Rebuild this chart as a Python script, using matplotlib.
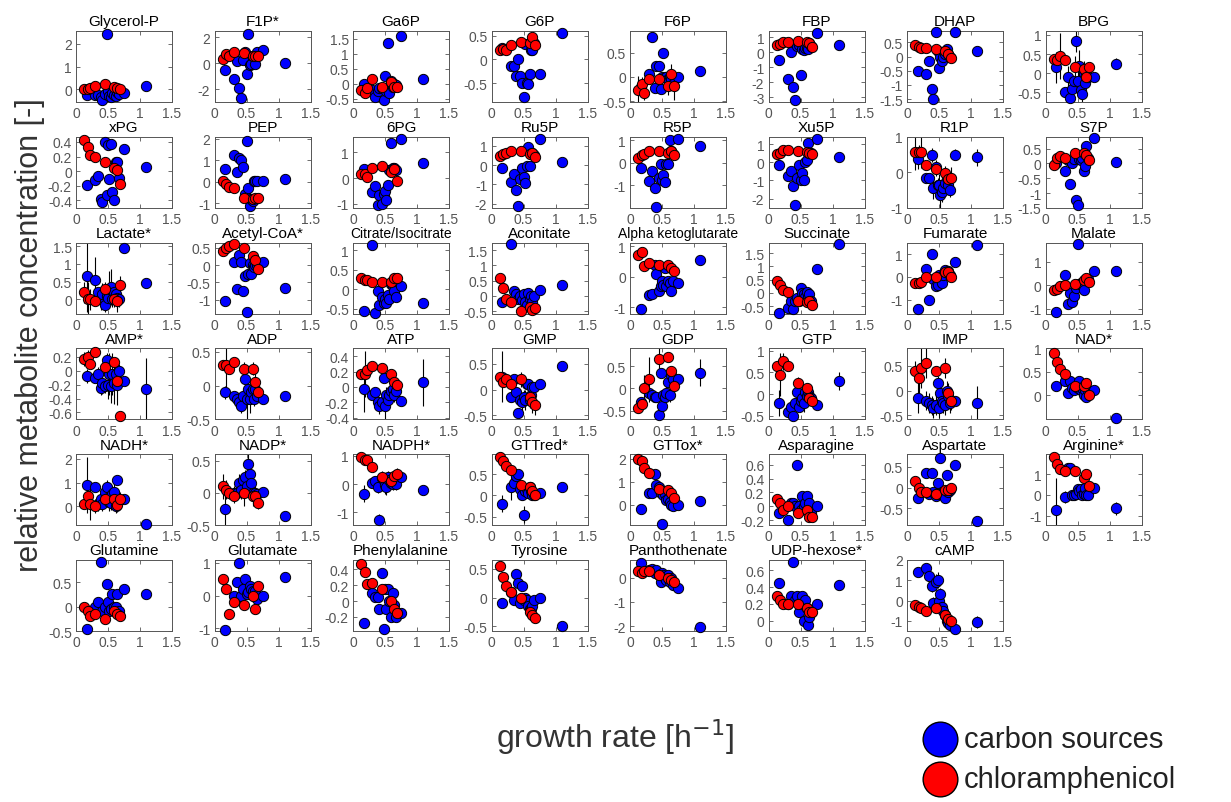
import numpy as np
import matplotlib
matplotlib.use("Agg")
import matplotlib.pyplot as plt
from matplotlib.lines import Line2D

plt.rcParams['font.family'] = ['Liberation Sans', 'DejaVu Sans']

nan = float('nan')

# growth rates [1/h]
growth_carbon = [0.17, 0.30, 0.35, 0.39, 0.41, 0.45, 0.48, 0.50, 0.52, 0.55, 0.57, 0.60, 0.62, 0.64, 0.67, 0.75, 1.10]
growth_cam = [0.13, 0.18, 0.22, 0.30, 0.46, 0.60, 0.64, 0.68]

# ---- row 1 ----
carbon_glycerol_p = [-0.25, -0.25, -0.25, -0.35, -0.45, -0.2, 2.4, -0.05, -0.3, -0.35, -0.15, -0.25, -0.3, -0.1, -0.2, -0.15, 0.15]
cam_glycerol_p = [0.0, 0.02, 0.05, 0.15, 0.22, 0.12, 0.08, 0.0]
carbon_f1p = [-0.55, -1.25, 0.15, -1.9, -2.7, 0.25, 0.9, -0.85, 2.3, -0.1, -0.05, 0.6, 0.55, -0.05, 0.85, 1.05, 0.05]
cam_f1p = [0.35, 0.7, 0.55, 0.85, 0.8, 0.6, 0.6, 0.55]
carbon_ga6p = [0.0, -0.2, -0.45, -0.25, -0.15, -0.15, -0.55, 0.25, -0.25, 1.35, -0.3, 0.1, -0.1, 0.0, -0.05, 1.6, 0.15]
cam_ga6p = [-0.2, -0.3, -0.15, 0.15, -0.1, 0.05, -0.1, -0.1]
carbon_g6p = [0.25, -0.13, -0.13, -0.36, 0.0, -0.35, -0.5, -0.8, 0.32, -0.5, -0.53, -0.3, 0.2, 0.2, 0.35, -0.3, 0.55]
cam_g6p = [0.2, 0.22, 0.2, 0.3, 0.37, 0.35, 0.47, 0.3]
carbon_f6p = [-0.2, 0.05, 0.83, -0.22, 0.22, 0.23, -0.25, 0.0, 0.5, 0.0, 0.0, -0.05, 0.0, -0.05, -0.15, 0.0, 0.12]
cam_f6p = [-0.28, -0.15, -0.33, -0.05, -0.05, -0.18, 0.07, -0.18]
carbon_fbp = [-0.5, -1.8, 0.0, -2.3, -3.2, 0.4, 0.45, -1.5, 0.2, 0.15, 0.25, 0.3, 0.2, 0.6, 0.4, 1.3, 0.45]
cam_fbp = [0.5, 0.55, 0.65, 0.7, 0.75, 0.7, 0.6, 0.35]
carbon_dhap = [-0.5, -0.6, -0.15, -1.15, -1.5, 0.85, 0.2, -0.4, 0.0, -0.15, 0.0, 0.1, 0.25, 0.1, 0.0, 0.85, 0.2]
cam_dhap = [0.4, 0.35, 0.3, 0.3, 0.25, 0.2, 0.1, -0.05]
carbon_bpg = [0.15, -0.5, -0.1, -0.65, -0.4, -0.2, 0.85, -0.2, 0.2, -0.45, -0.55, 0.0, -0.25, 0.0, -0.1, -0.1, 0.25]
cam_bpg = [0.37, 0.35, 0.45, 0.35, 0.15, 0.12, -0.1, 0.15]

# ---- row 2 ----
carbon_xpg = [-0.19, -0.12, -0.06, -0.38, -0.42, 0.4, -0.33, 0.36, -0.11, 0.37, -0.28, -0.4, 0.13, 0.12, -0.09, 0.3, 0.06]
cam_xpg = [0.42, 0.33, 0.22, 0.2, 0.12, 0.04, 0.02, -0.17]
carbon_pep = [0.6, 1.25, 0.45, 1.1, 1.0, 0.7, -0.55, 1.9, -0.3, -1.1, -0.8, -0.9, 0.05, 0.05, 0.05, 0.05, 0.15]
cam_pep = [0.05, -0.1, -0.25, -0.3, -0.75, -0.8, -0.75, -0.75]
carbon_6pg = [0.35, -0.55, -0.3, -1.05, -0.65, -1.0, -0.6, -0.5, -0.85, -0.25, 0.3, 1.35, 0.4, 0.4, 0.3, 1.5, 0.6]
cam_6pg = [0.15, 0.15, 0.05, 0.4, 0.45, 0.25, 0.35, -0.1]
carbon_ru5p = [-0.15, -0.85, -0.45, -1.3, -2.1, -0.7, -0.15, -0.6, -0.9, -0.05, 0.95, -0.05, 0.55, 0.6, 0.5, 1.35, 0.15]
cam_ru5p = [0.45, 0.55, 0.6, 0.7, 0.7, 0.55, 0.6, 0.4]
carbon_r5p = [-0.25, -0.8, -0.35, -1.1, -1.95, -0.7, -0.05, -0.75, -0.55, -0.85, -0.05, -0.05, 1.0, 0.5, 0.4, 1.05, 0.75]
cam_r5p = [0.2, 0.35, 0.4, 0.5, 0.5, 0.45, 0.5, 0.35]
carbon_xu5p = [-0.15, -0.75, -0.5, -1.3, -2.35, -0.85, -0.15, -0.95, -0.6, -1.0, 0.0, 0.15, 1.05, 0.5, 0.5, 1.3, 0.3]
cam_xu5p = [0.45, 0.5, 0.65, 0.65, 0.6, 0.55, 0.5, 0.45]
carbon_r1p = [0.38, -0.15, -0.15, 0.48, -0.45, 0.15, -0.35, -0.35, -0.65, -0.55, -0.45, -0.3, -0.15, -0.35, -0.5, 0.5, 0.42]
cam_r1p = [0.57, 0.57, 0.57, 0.2, 0.1, -0.02, -0.2, -0.15]
carbon_s7p = [0.0, -0.25, 0.1, -0.7, 0.0, 0.15, -1.25, -1.4, 0.15, 0.1, 0.2, -0.25, -0.1, 0.6, 0.2, 0.85, 0.05]
cam_s7p = [-0.05, 0.2, 0.25, 0.2, 0.35, 0.35, 0.3, 0.1]

# ---- row 3 ----
carbon_lactate = [0.65, 0.55, 0.2, 0.0, 0.15, -0.15, 0.1, 0.05, 0.3, 0.35, 0.0, 0.2, 0.15, 0.05, 0.0, 1.45, 0.45]
cam_lactate = [0.2, 0.0, 0.0, -0.05, 0.3, 0.0, -0.05, 0.4]
carbon_acetylcoa = [-1.05, 0.1, -0.7, 0.3, 0.1, -0.75, -0.3, -1.35, -0.25, 0.05, -0.25, 0.0, -0.05, 0.0, 0.0, 0.1, -0.65]
cam_acetylcoa = [0.4, 0.5, 0.55, 0.6, 0.5, 0.25, 0.15, -0.1]
carbon_citrate = [-0.55, 1.15, -0.6, -0.05, -0.4, -0.2, -0.35, -0.25, -0.35, -0.15, -0.25, 0.15, 0.1, -0.05, -0.2, 0.1, -0.35]
cam_citrate = [0.3, 0.25, 0.25, 0.2, 0.2, 0.2, 0.3, 0.3]
carbon_aconitate = [-0.2, 1.7, 0.15, 0.05, -0.1, 0.0, -0.15, 0.05, -0.2, -0.3, 0.1, -0.1, 0.0, -0.2, 0.0, 0.2, 0.35]
cam_aconitate = [0.6, 0.25, -0.1, -0.2, -0.5, -0.35, -0.45, -0.4]
carbon_akg = [-1.05, -0.6, -0.55, 0.4, 0.1, -0.45, -0.3, -0.15, -0.25, 0.3, -0.3, -0.15, -0.2, -0.45, -0.15, -0.2, 0.55]
cam_akg = [0.7, 0.8, 0.35, 0.45, 0.4, 0.4, 0.3, 0.2]
carbon_succinate = [-0.75, -0.55, -0.3, -0.6, -0.3, -0.2, -0.3, 0.2, 0.0, -0.05, -0.15, 0.05, -0.15, -0.05, -0.3, 0.9, 1.85]
cam_succinate = [0.45, 0.3, 0.1, 0.05, -0.3, -0.35, -0.3, -0.45]
carbon_fumarate = [-1.4, 0.35, -1.0, 1.0, -0.1, -0.4, -0.35, 0.1, 0.0, -0.25, 0.1, 0.3, 0.2, 0.25, 0.1, 0.65, 1.4]
cam_fumarate = [-0.25, -0.25, -0.2, 0.0, 0.0, 0.2, 0.2, 0.0]
carbon_malate = [-1.15, 0.45, -0.8, -0.35, -0.7, -0.45, -0.1, 1.75, 0.05, 0.1, 0.1, -0.2, 0.2, 0.2, 0.25, 0.6, 0.6]
cam_malate = [-0.2, -0.15, -0.05, 0.0, 0.05, 0.2, 0.3, 0.15]

# ---- row 4 ----
carbon_amp = [-0.08, -0.1, -0.05, -0.25, -0.18, -0.22, 0.15, -0.2, -0.05, -0.22, -0.05, -0.18, -0.05, -0.2, 0.0, -0.15, -0.27]
cam_amp = [0.17, 0.2, 0.1, 0.27, 0.05, 0.13, -0.15, -0.65]
carbon_adp = [-0.1, -0.15, -0.2, -0.25, -0.3, -0.15, 0.1, -0.2, -0.05, -0.2, -0.1, -0.05, -0.2, -0.05, -0.15, -0.2, -0.15]
cam_adp = [0.3, 0.3, 0.25, 0.35, 0.25, 0.25, 0.05, -0.1]
carbon_atp = [-0.03, -0.1, -0.07, -0.2, -0.25, -0.2, 0.12, -0.25, -0.1, -0.17, -0.1, -0.05, -0.03, -0.1, -0.05, -0.18, 0.06]
cam_atp = [0.17, 0.17, 0.22, 0.27, 0.25, 0.17, 0.07, 0.02]
carbon_gmp = [0.25, -0.15, 0.2, -0.05, -0.45, -0.2, -0.25, -0.15, -0.2, 0.1, 0.1, -0.2, -0.1, 0.05, 0.05, 0.1, 0.45]
cam_gmp = [0.25, 0.15, 0.2, 0.1, 0.2, -0.15, -0.25, -0.3]
carbon_gdp = [-0.3, -0.1, -0.15, -0.2, -0.2, -0.6, 0.35, -0.4, -0.15, -0.2, -0.1, 0.15, -0.15, 0.3, 0.2, 0.2, 0.35]
cam_gdp = [-0.45, -0.35, 0.0, 0.2, 0.65, 0.7, 0.4, 0.05]
carbon_gtp = [-0.2, -0.4, -0.3, -0.5, -0.2, 0.05, -0.3, -0.15, -0.1, -0.2, 0.05, -0.05, 0.05, -0.05, -0.1, -0.25, 0.3]
cam_gtp = [0.65, 0.45, 0.75, 0.65, 0.25, 0.15, -0.1, -0.15]
carbon_imp = [-0.15, -0.2, -0.25, -0.3, -0.35, -0.3, 0.15, -0.35, -0.05, -0.2, -0.25, -0.3, 0.0, -0.1, -0.25, -0.2, -0.25]
cam_imp = [0.4, 0.25, 0.45, 0.55, 0.4, 0.45, -0.05, -0.2]
carbon_nad = [0.2, 0.3, 0.05, 0.3, 0.15, 0.1, 0.2, 0.15, 0.3, 0.1, 0.15, 0.0, 0.1, -0.05, 0.1, 0.1, -0.5]
cam_nad = [0.9, 0.7, 0.55, 0.45, 0.2, 0.2, 0.25, 0.0]

# ---- row 5 ----
carbon_nadh = [0.9, 0.8, 0.1, 0.3, 0.1, 0.6, 0.8, 0.35, 0.2, 0.15, 0.5, 0.6, 0.0, 1.1, 0.25, 0.3, -0.75]
cam_nadh = [0.1, 0.45, 0.1, 0.0, 0.3, 0.3, 0.05, 0.3]
carbon_nadp = [-0.25, 0.0, 0.0, 0.15, 0.05, 0.2, 0.25, 0.1, 0.45, 0.3, 0.15, 0.0, -0.05, 0.0, -0.02, 0.02, -0.35]
cam_nadp = [0.1, 0.05, 0.0, -0.05, 0.0, -0.05, -0.05, -0.15]
carbon_nadph = [-0.35, 0.05, 0.1, -0.1, -1.25, 0.2, 0.15, -0.05, -0.1, 0.25, 0.15, 0.05, 0.0, 0.1, 0.0, 0.25, -0.2]
cam_nadph = [0.95, 0.85, 0.85, 0.6, 0.25, 0.1, 0.3, 0.35]
carbon_gttred = [-0.2, 0.2, 0.3, 0.45, 0.5, 0.15, 0.0, -0.45, 0.1, 0.15, 0.05, 0.2, 0.1, 0.0, 0.0, 0.05, 0.2]
cam_gttred = [0.9, 0.8, 0.7, 0.6, 0.25, 0.2, 0.1, 0.0]
carbon_gttox = [-0.2, 0.5, 0.5, 1.35, 0.85, 0.75, 0.5, -0.85, 0.4, 0.45, 0.2, 0.25, 0.1, 0.0, -0.05, 0.0, 0.15]
cam_gttox = [2.0, 1.9, 1.6, 1.4, 0.7, 0.65, 0.5, 0.3]
carbon_asparagine = [-0.1, -0.2, 0.05, 0.05, 0.0, 0.6, 0.0, -0.05, 0.15, 0.0, 0.05, 0.15, -0.05, 0.05, -0.1, 0.0, nan]
cam_asparagine = [0.1, 0.05, -0.05, 0.0, -0.1, -0.05, -0.15, -0.15]
carbon_aspartate = [-0.25, 0.35, -0.15, 0.35, -0.1, -0.2, 0.1, -0.15, 0.7, -0.1, -0.1, -0.25, 0.3, -0.1, -0.05, 0.55, -0.8]
cam_aspartate = [0.15, 0.0, -0.1, -0.1, -0.15, -0.05, -0.05, 0.0]
carbon_arginine = [-0.7, -0.1, 1.3, 1.3, 0.0, 0.0, 0.05, 0.3, 0.2, 0.3, 0.0, 0.05, 0.35, 0.0, 0.0, 0.35, -0.65]
cam_arginine = [1.8, 1.5, 1.25, 1.15, 1.15, 0.8, 1.0, 0.45]

# ---- row 6 ----
carbon_glutamine = [-0.45, 0.0, 0.1, 0.9, -0.1, 0.0, 0.45, 0.1, -0.1, -0.05, 0.25, 0.0, 0.0, 0.25, -0.1, 0.35, 0.25]
cam_glutamine = [0.0, -0.1, -0.2, -0.15, -0.25, -0.1, -0.15, -0.2]
carbon_glutamate = [-1.05, 0.0, 0.4, 1.0, 0.0, 0.2, 0.5, 0.05, 0.1, 0.3, 0.2, 0.15, 0.0, 0.15, -0.1, 0.0, 0.55]
cam_glutamate = [0.5, 0.2, -0.55, -0.2, -0.3, 0.0, -0.4, 0.3]
carbon_phenylalanine = [-0.28, 0.1, 0.05, 0.05, -0.1, 0.35, -0.35, 0.15, -0.1, 0.15, 0.0, -0.2, 0.1, -0.05, -0.2, -0.15, nan]
cam_phenylalanine = [0.47, 0.37, 0.22, 0.23, 0.15, 0.0, -0.1, -0.15]
carbon_tyrosine = [-0.1, 0.1, -0.05, 0.4, 0.25, -0.1, 0.2, -0.05, 0.0, -0.05, -0.15, -0.2, -0.2, -0.15, -0.05, 0.0, -0.5]
cam_tyrosine = [0.55, 0.35, 0.2, 0.1, 0.0, -0.25, -0.3, -0.35]
carbon_panthothenate = [0.6, 0.3, 0.35, 0.2, 0.3, 0.1, -0.2, 0.2, 0.1, 0.0, -0.1, 0.1, -0.2, 0.0, -0.3, -0.45, -2.05]
cam_panthothenate = [0.25, 0.2, 0.25, 0.25, 0.1, 0.0, -0.1, -0.2]
carbon_udp_hexose = [0.45, 0.2, 0.3, 0.7, 0.25, 0.3, 0.1, 0.2, 0.3, 0.0, 0.25, 0.15, -0.05, 0.05, 0.1, 0.2, 0.42]
cam_udp_hexose = [0.3, 0.25, 0.2, 0.2, 0.2, 0.15, 0.1, 0.1]
carbon_camp = [1.4, 1.6, 1.2, 0.7, -0.1, 0.9, 1.0, 0.0, 0.3, -0.3, -0.5, -0.7, -1.0, -1.1, -1.2, -1.4, -1.05]
cam_camp = [-0.2, -0.3, -0.35, -0.5, -0.35, -0.7, -0.9, -1.0]

# ---- error bars (standard deviations) ----
err_carbon_f6p = [0.1, 0.05, 0.1, 0.1, 0.1, 0.1, 0.1, 0.1, 0.1, 0.1, 0.1, 0.1, 0.1, 0.1, 0.1, 0.05, 0.05]
err_cam_f6p = [0.3, 0.15, 0.15, 0.1, 0.1, 0.2, 0.2, 0.3]
err_carbon_bpg = [0.4, 0.1, 0.3, 0.1, 0.1, 0.1, 0.3, 0.3, 0.4, 0.2, 0.2, 0.1, 0.2, 0.1, 0.1, 0.05, 0.15]
err_cam_bpg = [0.1, 0.2, 0.6, 0.1, 0.3, 0.2, 0.2, 0.1]
err_carbon_r1p = [0.3, 0.1, 0.1, 0.2, 0.3, 0.2, 0.2, 0.3, 0.4, 0.3, 0.2, 0.3, 0.2, 0.3, 0.2, 0.15, 0.25]
err_cam_r1p = [0.5, 0.2, 0.45, 0.1, 0.2, 0.2, 0.3, 0.3]
err_carbon_lactate = [1.0, 0.65, 0.1, 0.3, 0.3, 0.2, 0.3, 0.2, 0.5, 0.5, 0.2, 0.2, 0.2, 0.3, 0.2, 0.15, 0.1]
err_cam_lactate = [0.3, 0.5, 0.3, 0.1, 0.2, 0.2, 0.3, 0.25]
err_carbon_amp = [0.1, 0.05, 0.1, 0.1, 0.15, 0.1, 0.1, 0.2, 0.3, 0.25, 0.3, 0.3, 0.1, 0.3, 0.1, 0.05, 0.45]
err_cam_amp = [0.1, 0.1, 0.05, 0.05, 0.05, 0.05, 0.1, 0.05]
err_carbon_adp = [0.1, 0.05, 0.1, 0.1, 0.1, 0.1, 0.05, 0.3, 0.15, 0.2, 0.1, 0.1, 0.1, 0.1, 0.05, 0.05, 0.07]
err_cam_adp = [0.05, 0.4, 0.05, 0.05, 0.1, 0.1, 0.15, 0.1]
err_carbon_atp = [0.3, 0.05, 0.05, 0.1, 0.1, 0.1, 0.05, 0.2, 0.1, 0.1, 0.1, 0.1, 0.05, 0.1, 0.1, 0.05, 0.3]
err_cam_atp = [0.05, 0.3, 0.05, 0.05, 0.05, 0.05, 0.05, 0.05]
err_carbon_gmp = [0.5, 0.1, 0.05, 0.1, 0.1, 0.1, 0.15, 0.15, 0.2, 0.1, 0.1, 0.15, 0.1, 0.1, 0.05, 0.05, 0.07]
err_cam_gmp = [0.1, 0.1, 0.1, 0.1, 0.15, 0.1, 0.2, 0.2]
err_carbon_gdp = [0.1, 0.1, 0.1, 0.1, 0.1, 0.2, 0.1, 0.1, 0.1, 0.1, 0.2, 0.15, 0.15, 0.1, 0.1, 0.05, 0.3]
err_cam_gdp = [0.1, 0.1, 0.3, 0.5, 0.3, 0.1, 0.1, 0.1]
err_carbon_gtp = [0.3, 0.1, 0.1, 0.1, 0.1, 0.1, 0.1, 0.1, 0.1, 0.2, 0.1, 0.1, 0.1, 0.1, 0.1, 0.05, 0.2]
err_cam_gtp = [0.1, 0.5, 0.2, 0.1, 0.15, 0.1, 0.1, 0.1]
err_carbon_imp = [0.3, 0.2, 0.2, 0.2, 0.2, 0.2, 0.15, 0.2, 0.2, 0.2, 0.2, 0.2, 0.2, 0.2, 0.2, 0.1, 0.35]
err_cam_imp = [0.2, 0.3, 0.4, 0.3, 0.1, 0.2, 0.2, 0.2]
err_carbon_nadh = [1.2, 0.2, 0.3, 0.3, 0.3, 0.2, 0.3, 0.3, 0.4, 0.3, 0.3, 0.4, 0.3, 0.2, 0.3, 0.1, 0.1]
err_cam_nadh = [0.2, 0.2, 0.7, 0.3, 0.3, 0.3, 0.3, 0.3]
err_carbon_nadp = [0.3, 0.1, 0.1, 0.15, 0.15, 0.1, 0.1, 0.15, 0.15, 0.1, 0.15, 0.1, 0.1, 0.1, 0.05, 0.05, 0.05]
err_cam_nadp = [0.2, 0.15, 0.1, 0.1, 0.2, 0.15, 0.1, 0.1]
err_carbon_nadph = [0.3, 0.2, 0.2, 0.2, 0.2, 0.2, 0.2, 0.3, 0.3, 0.2, 0.2, 0.2, 0.2, 0.2, 0.2, 0.1, 0.1]
err_cam_nadph = [0.05, 0.05, 0.05, 0.1, 0.2, 0.2, 0.2, 0.2]
err_carbon_gttred = [0.2, 0.3, 0.1, 0.1, 0.1, 0.1, 0.1, 0.2, 0.1, 0.1, 0.1, 0.1, 0.1, 0.1, 0.1, 0.05, 0.05]
err_carbon_arginine = [1.5, 0.3, 0.1, 0.1, 0.1, 0.1, 0.1, 0.1, 0.1, 0.1, 0.1, 0.1, 0.1, 0.1, 0.1, 0.1, 0.3]
err_carbon_camp = [0.2, 0.2, 0.2, 0.3, 0.3, 0.4, 0.4, 0.3, 0.3, 0.2, 0.2, 0.2, 0.2, 0.2, 0.1, 0.1, 0.3]

# title, carbon-source values, chloramphenicol values, y-limits, y-ticks, errors
panels = [
    ("Glycerol-P", carbon_glycerol_p, cam_glycerol_p, (-0.55, 2.55), [0, 1, 2], None, None),
    ("F1P*", carbon_f1p, cam_f1p, (-3.0, 2.5), [-2, 0, 2], None, None),
    ("Ga6P", carbon_ga6p, cam_ga6p, (-0.6, 1.75), [-0.5, 0, 0.5, 1, 1.5], None, None),
    ("G6P", carbon_g6p, cam_g6p, (-0.9, 0.6), [-0.5, 0, 0.5], None, None),
    ("F6P", carbon_f6p, cam_f6p, (-0.52, 0.95), [-0.5, 0, 0.5], err_carbon_f6p, err_cam_f6p),
    ("FBP", carbon_fbp, cam_fbp, (-3.3, 1.4), [-3, -2, -1, 0, 1], None, None),
    ("DHAP", carbon_dhap, cam_dhap, (-1.6, 0.9), [-1.5, -1, -0.5, 0, 0.5], None, None),
    ("BPG", carbon_bpg, cam_bpg, (-0.75, 1.1), [-0.5, 0, 0.5, 1], err_carbon_bpg, err_cam_bpg),
    ("xPG", carbon_xpg, cam_xpg, (-0.5, 0.47), [-0.4, -0.2, 0, 0.2, 0.4], None, None),
    ("PEP", carbon_pep, cam_pep, (-1.2, 2.1), [-1, 0, 1, 2], None, None),
    ("6PG", carbon_6pg, cam_6pg, (-1.15, 1.6), [-1, 0, 1], None, None),
    ("Ru5P", carbon_ru5p, cam_ru5p, (-2.2, 1.45), [-2, -1, 0, 1], None, None),
    ("R5P", carbon_r5p, cam_r5p, (-2.0, 1.15), [-1, 0, 1], None, None),
    ("Xu5P", carbon_xu5p, cam_xu5p, (-2.5, 1.4), [-2, -1, 0, 1], None, None),
    ("R1P", carbon_r1p, cam_r1p, (-1.0, 1.0), [-1, 0, 1], err_carbon_r1p, err_cam_r1p),
    ("S7P", carbon_s7p, cam_s7p, (-1.5, 0.9), [-1.5, -1, -0.5, 0, 0.5], None, None),
    ("Lactate*", carbon_lactate, cam_lactate, (-0.4, 1.6), [0, 0.5, 1, 1.5], err_carbon_lactate, err_cam_lactate),
    ("Acetyl-CoA*", carbon_acetylcoa, cam_acetylcoa, (-1.4, 0.65), [-1, -0.5, 0, 0.5], None, None),
    ("Citrate/Isocitrate", carbon_citrate, cam_citrate, (-0.62, 1.2), [-0.5, 0, 0.5, 1], None, None),
    ("Aconitate", carbon_aconitate, cam_aconitate, (-0.58, 1.75), [-0.5, 0, 0.5, 1, 1.5], None, None),
    ("Alpha ketoglutarate", carbon_akg, cam_akg, (-1.2, 1.12), [-1, 0, 1], None, None),
    ("Succinate", carbon_succinate, cam_succinate, (-0.78, 1.9), [-0.5, 0, 0.5, 1, 1.5], None, None),
    ("Fumarate", carbon_fumarate, cam_fumarate, (-1.6, 1.5), [-1, 0, 1], None, None),
    ("Malate", carbon_malate, cam_malate, (-1.2, 1.8), [-1, 0, 1], None, None),
    ("AMP*", carbon_amp, cam_amp, (-0.7, 0.32), [-0.6, -0.4, -0.2, 0, 0.2], err_carbon_amp, err_cam_amp),
    ("ADP", carbon_adp, cam_adp, (-0.5, 0.55), [-0.5, 0, 0.5], err_carbon_adp, err_cam_adp),
    ("ATP", carbon_atp, cam_atp, (-0.42, 0.5), [-0.4, -0.2, 0, 0.2, 0.4], err_carbon_atp, err_cam_atp),
    ("GMP", carbon_gmp, cam_gmp, (-0.58, 0.8), [-0.5, 0, 0.5], err_carbon_gmp, err_cam_gmp),
    ("GDP", carbon_gdp, cam_gdp, (-0.7, 0.9), [-0.5, 0, 0.5], err_carbon_gdp, err_cam_gdp),
    ("GTP", carbon_gtp, cam_gtp, (-0.58, 1.05), [-0.5, 0, 0.5, 1], err_carbon_gtp, err_cam_gtp),
    ("IMP", carbon_imp, cam_imp, (-0.58, 0.85), [-0.5, 0, 0.5], err_carbon_imp, err_cam_imp),
    ("NAD*", carbon_nad, cam_nad, (-0.52, 1.0), [0, 0.5, 1], None, None),
    ("NADH*", carbon_nadh, cam_nadh, (-0.8, 2.2), [0, 1, 2], err_carbon_nadh, err_cam_nadh),
    ("NADP*", carbon_nadp, cam_nadp, (-0.5, 0.6), [-0.5, 0, 0.5], err_carbon_nadp, err_cam_nadp),
    ("NADPH*", carbon_nadph, cam_nadph, (-1.45, 1.05), [-1, 0, 1], err_carbon_nadph, err_cam_nadph),
    ("GTTred*", carbon_gttred, cam_gttred, (-0.7, 0.97), [-0.5, 0, 0.5], err_carbon_gttred, None),
    ("GTTox*", carbon_gttox, cam_gttox, (-0.9, 2.2), [0, 1, 2], None, None),
    ("Asparagine", carbon_asparagine, cam_asparagine, (-0.27, 0.75), [-0.2, 0, 0.2, 0.4, 0.6], None, None),
    ("Aspartate", carbon_aspartate, cam_aspartate, (-0.9, 0.8), [-0.5, 0, 0.5], None, None),
    ("Arginine*", carbon_arginine, cam_arginine, (-1.45, 1.95), [-1, 0, 1], err_carbon_arginine, None),
    ("Glutamine", carbon_glutamine, cam_glutamine, (-0.5, 0.95), [-0.5, 0, 0.5], None, None),
    ("Glutamate", carbon_glutamate, cam_glutamate, (-1.08, 1.08), [-1, 0, 1], None, None),
    ("Phenylalanine", carbon_phenylalanine, cam_phenylalanine, (-0.38, 0.52), [-0.2, 0, 0.2, 0.4], None, None),
    ("Tyrosine", carbon_tyrosine, cam_tyrosine, (-0.58, 0.65), [-0.5, 0, 0.5], None, None),
    ("Panthothenate", carbon_panthothenate, cam_panthothenate, (-2.2, 0.72), [-2, -1, 0], None, None),
    ("UDP-hexose*", carbon_udp_hexose, cam_udp_hexose, (-0.12, 0.72), [0, 0.2, 0.4, 0.6], None, None),
    ("cAMP", carbon_camp, cam_camp, (-1.5, 2.0), [-1, 0, 1, 2], err_carbon_camp, None),
]

x_ticks = [0, 0.5, 1, 1.5]
x_ticklabels = ["0", "0.5", "1", "1.5"]

W, H = 1231, 803
fig = plt.figure(figsize=(W / 100, H / 100), dpi=100)

left0, dx, aw = 76, 138.5, 96
top0, dy, ah = 32, 105.8, 71
gray = "#555555"

for i, (title, cy, ry, ylim, yt, ce, re_) in enumerate(panels):
    r, c = divmod(i, 8)
    left = left0 + c * dx
    top = top0 + r * dy
    ax = fig.add_axes([left / W, 1 - (top + ah) / H, aw / W, ah / H])
    if ce is not None:
        ax.errorbar(growth_carbon, cy, yerr=ce, fmt='none', ecolor='black',
                    elinewidth=0.8, capsize=0, zorder=2)
    if re_ is not None:
        ax.errorbar(growth_cam, ry, yerr=re_, fmt='none', ecolor='black',
                    elinewidth=0.8, capsize=0, zorder=2)
    ax.plot(growth_carbon, cy, 'o', ms=7.4, mfc='#0000ff', mec='black', mew=0.7,
            ls='none', zorder=3, clip_on=False)
    ax.plot(growth_cam, ry, 'o', ms=7.4, mfc='#ff0000', mec='black', mew=0.7,
            ls='none', zorder=4, clip_on=False)
    ax.set_xlim(0, 1.5)
    ax.set_ylim(*ylim)
    ax.set_xticks(x_ticks)
    ax.set_xticklabels(x_ticklabels)
    ax.set_yticks(yt)
    ax.set_yticklabels(["%g" % v for v in yt])
    ax.tick_params(direction='in', length=3, width=0.6, colors=gray,
                   labelsize=10, top=True, right=True, pad=3)
    for sp in ax.spines.values():
        sp.set_color(gray)
        sp.set_linewidth(0.7)
    tsize = 10 if len(title) > 16 else 11
    ax.set_title(title, fontsize=tsize, color='black', pad=4)

fig.text(30 / W, 1 - 335 / H, "relative metabolite concentration [-]", rotation=90,
         ha='center', va='center', fontsize=22, color='#333333')
fig.text(615 / W, 1 - 737 / H, "growth rate [h$^{-1}$]", ha='center', va='center',
         fontsize=23, color='#333333')

# legend
legend_items = [("carbon sources", '#0000ff', 740), ("chloramphenicol", '#ff0000', 780)]
for label, col, yy in legend_items:
    fig.add_artist(Line2D([940 / W], [1 - yy / H], marker='o', ms=25, mfc=col,
                          mec='black', mew=1.0, ls='none', transform=fig.transFigure))
    fig.text(964 / W, 1 - yy / H, label, ha='left', va='center', fontsize=21,
             color='#222222')

fig.savefig("out.png", dpi=100)
